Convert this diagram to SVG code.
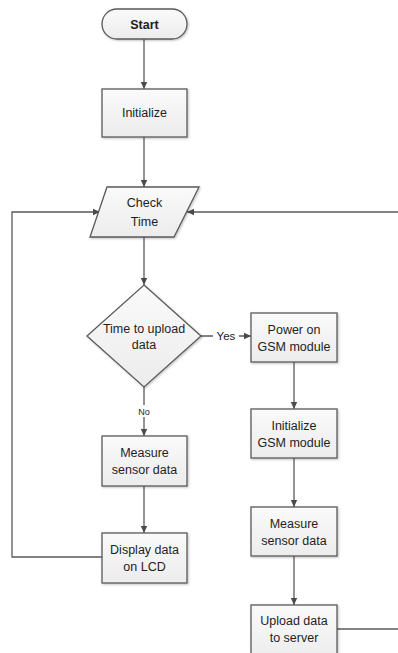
<svg xmlns="http://www.w3.org/2000/svg" width="398" height="653" viewBox="0 0 398 653">
<style>
.box{fill:url(#g);stroke:#5a5a5a;stroke-width:1.3;filter:url(#sh)}
.t{font-family:"Liberation Sans",Arial,sans-serif;font-size:12.5px;fill:#1e1e1e;text-anchor:middle}
.lbl{font-family:"Liberation Sans",Arial,sans-serif;font-size:10px;fill:#1e1e1e;text-anchor:middle}
.c{fill:none;stroke:#5a5a5a;stroke-width:1.3}
</style>
<defs>
<linearGradient id="g" x1="0" y1="0" x2="0" y2="1"><stop offset="0" stop-color="#fafafa"/><stop offset="1" stop-color="#ececec"/></linearGradient>
<filter id="sh" x="-10%" y="-10%" width="130%" height="130%"><feDropShadow dx="1" dy="1" stdDeviation="0.8" flood-color="#000" flood-opacity="0.25"/></filter>
<marker id="a" markerWidth="8" markerHeight="8" refX="7" refY="4" orient="auto" markerUnits="userSpaceOnUse"><path d="M0,0.8 L7,4 L0,7.2 Z" fill="#4a4a4a"/></marker>
</defs>
<g id="connectors">
<line class="c" x1="144" y1="39" x2="144" y2="89" marker-end="url(#a)"/>
<line class="c" x1="144" y1="137" x2="144" y2="187" marker-end="url(#a)"/>
<polyline class="c" points="102,557 12,557 12,212 100,212" marker-end="url(#a)"/>
<line class="c" x1="398" y1="212" x2="187" y2="212" marker-end="url(#a)"/>
<line class="c" x1="144" y1="237" x2="144" y2="285" marker-end="url(#a)"/>
<line class="c" x1="201" y1="336" x2="251" y2="336" marker-end="url(#a)"/>
<rect x="213" y="329" width="26" height="13" fill="#fff"/>
<text class="t" x="226" y="340" style="font-size:11.5px">Yes</text>
<line class="c" x1="144" y1="387" x2="144" y2="436" marker-end="url(#a)"/>
<rect x="136" y="405" width="16" height="12" fill="#fff"/>
<text class="lbl" x="144" y="415" style="font-size:9px">No</text>
<line class="c" x1="144" y1="486" x2="144" y2="533" marker-end="url(#a)"/>
<line class="c" x1="294" y1="362" x2="294" y2="409" marker-end="url(#a)"/>
<line class="c" x1="294" y1="458" x2="294" y2="507" marker-end="url(#a)"/>
<line class="c" x1="294" y1="556" x2="294" y2="605" marker-end="url(#a)"/>
<line class="c" x1="337" y1="629" x2="398" y2="629"/>
</g>
<g id="start"><rect class="box" x="102" y="9" width="85" height="30" rx="15"/><text class="t" x="144.5" y="29" style="font-weight:bold;font-size:12.5px">Start</text></g>
<g id="initialize"><rect class="box" x="102" y="89" width="85" height="48"/><text class="t" x="144.5" y="117">Initialize</text></g>
<g id="check-time"><polygon class="box" points="107,187 199,187 174,237 90,237"/><text class="t" x="144.5" y="207">Check</text><text class="t" x="144.5" y="226">Time</text></g>
<g id="decision"><polygon class="box" points="144,285 201,336 144,387 87,336"/><text class="t" x="144" y="333">Time to upload</text><text class="t" x="144" y="349">data</text></g>
<g id="measure-left"><rect class="box" x="102" y="436" width="85" height="50"/><text class="t" x="144.5" y="457">Measure</text><text class="t" x="144.5" y="474">sensor data</text></g>
<g id="display"><rect class="box" x="102" y="533" width="85" height="50"/><text class="t" x="144.5" y="554">Display data</text><text class="t" x="144.5" y="571">on LCD</text></g>
<g id="power-on"><rect class="box" x="251" y="313" width="86" height="49"/><text class="t" x="294" y="334">Power on</text><text class="t" x="294" y="351">GSM module</text></g>
<g id="init-gsm"><rect class="box" x="251" y="409" width="86" height="49"/><text class="t" x="294" y="430">Initialize</text><text class="t" x="294" y="447">GSM module</text></g>
<g id="measure-right"><rect class="box" x="251" y="507" width="86" height="49"/><text class="t" x="294" y="528">Measure</text><text class="t" x="294" y="545">sensor data</text></g>
<g id="upload"><rect class="box" x="251" y="605" width="86" height="56"/><text class="t" x="294" y="625">Upload data</text><text class="t" x="294" y="642">to server</text></g>
</svg>
